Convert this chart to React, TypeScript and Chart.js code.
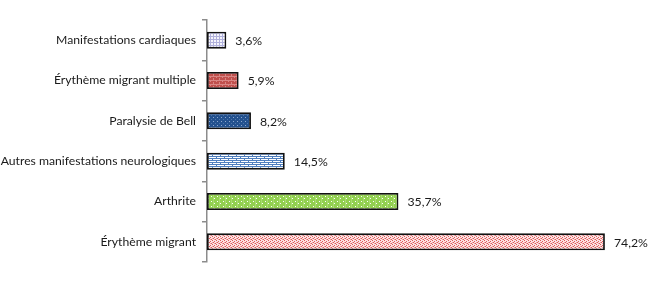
import React, { useEffect, useRef } from "react";
import { Chart, registerables } from "chart.js";

Chart.register(...registerables);

const categories = [
  "Manifestations cardiaques",
  "Érythème migrant multiple",
  "Paralysie de Bell",
  "Autres manifestations neurologiques",
  "Arthrite",
  "Érythème migrant",
];
const values = [3.6, 5.9, 8.2, 14.5, 35.7, 74.2];
const valueLabels = ["3,6%", "5,9%", "8,2%", "14,5%", "35,7%", "74,2%"];

const FONT = "Lato, 'Open Sans', sans-serif";

function makePattern(kind: string): CanvasPattern | string {
  const c = document.createElement("canvas");
  const ctx = c.getContext("2d")!;
  if (kind === "grid") {
    c.width = 3; c.height = 3;
    ctx.fillStyle = "#f4f4fc"; ctx.fillRect(0, 0, 3, 3);
    ctx.fillStyle = "#b0b0dc"; ctx.fillRect(0, 0, 3, 1); ctx.fillRect(0, 0, 1, 3);
  } else if (kind === "redbrick") {
    c.width = 6; c.height = 4;
    ctx.fillStyle = "#c0504d"; ctx.fillRect(0, 0, 6, 4);
    ctx.fillStyle = "#d98684"; ctx.fillRect(0, 0, 6, 1);
    ctx.fillRect(0, 0, 1, 2); ctx.fillRect(3, 2, 1, 2);
  } else if (kind === "bluedots") {
    c.width = 4; c.height = 4;
    ctx.fillStyle = "#24528f"; ctx.fillRect(0, 0, 4, 4);
    ctx.fillStyle = "#8fa9cf"; ctx.fillRect(1, 1, 1, 1);
    ctx.fillStyle = "#4f76aa"; ctx.fillRect(3, 3, 1, 1);
  } else if (kind === "bluebrick") {
    c.width = 8; c.height = 4;
    ctx.fillStyle = "#ffffff"; ctx.fillRect(0, 0, 8, 4);
    ctx.fillStyle = "#4f7fbf"; ctx.fillRect(0, 0, 8, 1);
    ctx.fillRect(0, 2, 8, 1);
    ctx.fillRect(0, 0, 1, 2); ctx.fillRect(4, 2, 1, 2);
  } else if (kind === "greendots") {
    c.width = 6; c.height = 5;
    ctx.fillStyle = "#92d050"; ctx.fillRect(0, 0, 6, 5);
    ctx.fillStyle = "#ffffff"; ctx.fillRect(1, 1, 1, 1); ctx.fillRect(4, 3, 1, 1);
    ctx.fillStyle = "#a8dc70"; ctx.fillRect(3, 0, 1, 5);
  } else {
    c.width = 4; c.height = 4;
    ctx.fillStyle = "#fbe3e3"; ctx.fillRect(0, 0, 4, 4);
    ctx.fillStyle = "#e05a5a";
    ctx.fillRect(0, 0, 1, 1); ctx.fillRect(2, 1, 1, 1); ctx.fillRect(1, 2, 1, 1); ctx.fillRect(3, 3, 1, 1);
    ctx.fillStyle = "#f0a0a0"; ctx.fillRect(2, 3, 1, 1); ctx.fillRect(0, 2, 1, 1);
  }
  const p = ctx.createPattern(c, "repeat");
  return p || "#cccccc";
}

const valueLabelPlugin = {
  id: "valueLabels",
  afterDatasetsDraw(chart: any) {
    const ctx = chart.ctx;
    const meta = chart.getDatasetMeta(0);
    ctx.save();
    ctx.font = `12.3px ${FONT}`;
    ctx.fillStyle = "#1a1a1a";
    ctx.textAlign = "left";
    ctx.textBaseline = "middle";
    meta.data.forEach((bar: any, i: number) => {
      ctx.fillText(valueLabels[i], bar.x + 9, bar.y + 1);
    });
    ctx.restore();
  },
};

export default function App() {
  const ref = useRef<HTMLCanvasElement>(null);
  useEffect(() => {
    if (!ref.current) return;
    const patterns = ["grid", "redbrick", "bluedots", "bluebrick", "greendots", "redconfetti"].map(makePattern);
    const chart = new Chart(ref.current, {
      type: "bar",
      data: {
        labels: categories,
        datasets: [
          {
            data: values,
            backgroundColor: patterns as any,
            borderColor: "#111111",
            borderWidth: 1.8,
            borderSkipped: false,
            barPercentage: 0.42,
            categoryPercentage: 1,
          },
        ],
      },
      options: {
        indexAxis: "y",
        animation: false,
        responsive: false,
        maintainAspectRatio: false,
        layout: { padding: { top: 20, bottom: 21, right: 14, left: 0 } },
        plugins: { legend: { display: false }, tooltip: { enabled: false } },
        scales: {
          x: { display: false, min: 0, max: 80 },
          y: {
            afterFit: (s: any) => { s.width = 207; },
            border: { display: true, color: "#8c8c8c", width: 1.5 },
            grid: { drawOnChartArea: false, tickLength: 5, color: "#8c8c8c", lineWidth: 1.5 },
            ticks: {
              padding: 6,
              color: "#1a1a1a",
              font: { family: FONT, size: 12.2 },
            },
          },
        },
      },
      plugins: [valueLabelPlugin],
    });
    return () => chart.destroy();
  }, []);
  return (
    <div style={{ position: "absolute", left: 0, top: 0, width: 650, height: 283, background: "#fff" }}>
      <canvas ref={ref} width={650} height={283} />
    </div>
  );
}
